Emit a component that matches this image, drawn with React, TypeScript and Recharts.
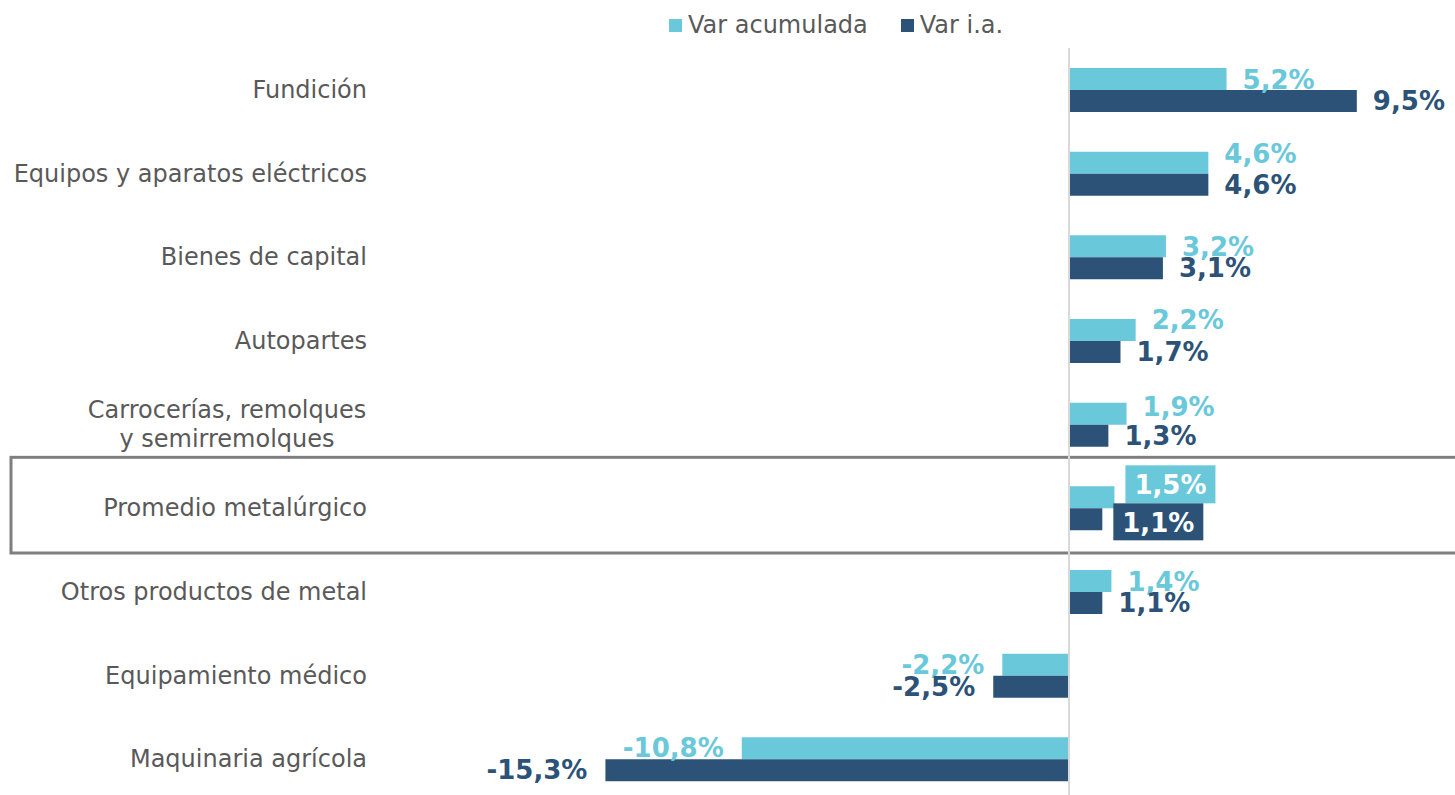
import React from 'react';
import { BarChart, Bar, XAxis, YAxis, LabelList, Legend, ReferenceLine, ReferenceArea } from 'recharts';

const categories = [
  'Fundición',
  'Equipos y aparatos eléctricos',
  'Bienes de capital',
  'Autopartes',
  'Carrocerías, remolques\ny semirremolques',
  'Promedio metalúrgico',
  'Otros productos de metal',
  'Equipamiento médico',
  'Maquinaria agrícola',
];
const varAcumulada = [5.2, 4.6, 3.2, 2.2, 1.9, 1.5, 1.4, -2.2, -10.8];
const varIA = [9.5, 4.6, 3.1, 1.7, 1.3, 1.1, 1.1, -2.5, -15.3];
const highlightCategory = 'Promedio metalúrgico';
const seriesNames = ['Var acumulada', 'Var i.a.'];

// style: vertical nudges of the "Var acumulada" value labels (as placed in the original)
const accLabelNudge = [1, -9, 1, -10, -7, 0, 1, 0, 0];

const LIGHT = '#69C8DA';
const DARK = '#2C5377';
const GRAY = '#595959';
const FONT = '"DejaVu Sans", Verdana, sans-serif';

const data = categories.map((name, i) => ({ name, acum: varAcumulada[i], ia: varIA[i] }));

const fmt = (v: number) => v.toFixed(1).replace('.', ',') + '%';

const CategoryTick = (props: any) => {
  const { x, y, payload } = props;
  const lines = String(payload.value).split('\n');
  if (lines.length === 1) {
    return (
      <text x={x} y={y} textAnchor="end" dominantBaseline="central" fill={GRAY} fontSize={24} fontFamily={FONT}>
        {lines[0]}
      </text>
    );
  }
  const lh = 29;
  return (
    <text x={x - 140} y={y} textAnchor="middle" fill={GRAY} fontSize={24} fontFamily={FONT}>
      {lines.map((l, i) => (
        <tspan key={i} x={x - 140} y={y + (i - (lines.length - 1) / 2) * lh} dominantBaseline="central">
          {l}
        </tspan>
      ))}
    </text>
  );
};

const makeLabel = (color: string, isLight: boolean) => (props: any) => {
  const { x, y, width, height, value, index } = props;
  const v = Number(value);
  const left = Math.min(Number(x), Number(x) + Number(width));
  const right = Math.max(Number(x), Number(x) + Number(width));
  const cy = Number(y) + Number(height) / 2 + (isLight ? accLabelNudge[index] || 0 : 0);
  if (categories[index] === highlightCategory) {
    const bx = right + 11;
    const by = isLight ? cy - 32 : cy - 16;
    const bh = isLight ? 38 : 37;
    return (
      <g>
        <rect x={bx} y={by} width={90} height={bh} fill={color} />
        <text x={bx + 45} y={by + bh / 2 + 1} textAnchor="middle" dominantBaseline="central" fill="#ffffff" fontSize={26} fontWeight="bold" fontFamily={FONT}>
          {fmt(v)}
        </text>
      </g>
    );
  }
  if (v >= 0) {
    return (
      <text x={right + 16} y={cy} textAnchor="start" dominantBaseline="central" fill={color} fontSize={26} fontWeight="bold" fontFamily={FONT}>
        {fmt(v)}
      </text>
    );
  }
  return (
    <text x={left - 18} y={cy} textAnchor="end" dominantBaseline="central" fill={color} fontSize={26} fontWeight="bold" fontFamily={FONT}>
      {fmt(v)}
    </text>
  );
};

const LegendContent = () => (
  <div style={{ height: 48, display: 'flex', alignItems: 'flex-start', paddingLeft: 669, paddingTop: 12, fontFamily: FONT, fontSize: 24, lineHeight: '26px', color: GRAY, boxSizing: 'border-box' }}>
    {seriesNames.map((n, i) => (
      <div key={n} style={{ display: 'flex', alignItems: 'center', marginRight: i === 0 ? 33 : 0 }}>
        <span style={{ display: 'inline-block', width: 13, height: 13, background: i === 0 ? LIGHT : DARK, marginRight: 6 }} />
        <span>{n}</span>
      </div>
    ))}
  </div>
);

const HighlightShape = (props: any) => {
  const { x, y, width, height } = props;
  return (
    <rect x={x - 369} y={y - 9} width={width + 420} height={height + 12} fill="none" stroke="#7F7F7F" strokeWidth={3} />
  );
};

export default function App() {
  return (
    <div style={{ position: 'absolute', left: 0, top: 0, width: 1455, height: 810, background: '#fff' }}>
      <BarChart
        width={1455}
        height={810}
        data={data}
        layout="vertical"
        margin={{ top: 0, right: 0, bottom: 9, left: 0 }}
        barSize={22}
        barGap={0}
      >
        <Legend verticalAlign="top" align="left" content={LegendContent} wrapperStyle={{ top: 0, left: 0, width: 1455, height: 48 }} />
        <XAxis type="number" domain={[-22.74, 12.74]} hide allowDataOverflow />
        <YAxis
          type="category"
          dataKey="name"
          width={380}
          tickLine={false}
          axisLine={false}
          tickSize={0}
          tickMargin={13}
          interval={0}
          tick={<CategoryTick />}
        />
        <ReferenceArea y1={highlightCategory} y2={highlightCategory} shape={<HighlightShape />} ifOverflow="visible" />
        <ReferenceLine x={0} stroke="#D9D9D9" strokeWidth={2} />
        <Bar dataKey="acum" name={seriesNames[0]} fill={LIGHT} isAnimationActive={false}>
          <LabelList dataKey="acum" content={makeLabel(LIGHT, true)} />
        </Bar>
        <Bar dataKey="ia" name={seriesNames[1]} fill={DARK} isAnimationActive={false}>
          <LabelList dataKey="ia" content={makeLabel(DARK, false)} />
        </Bar>
      </BarChart>
    </div>
  );
}
